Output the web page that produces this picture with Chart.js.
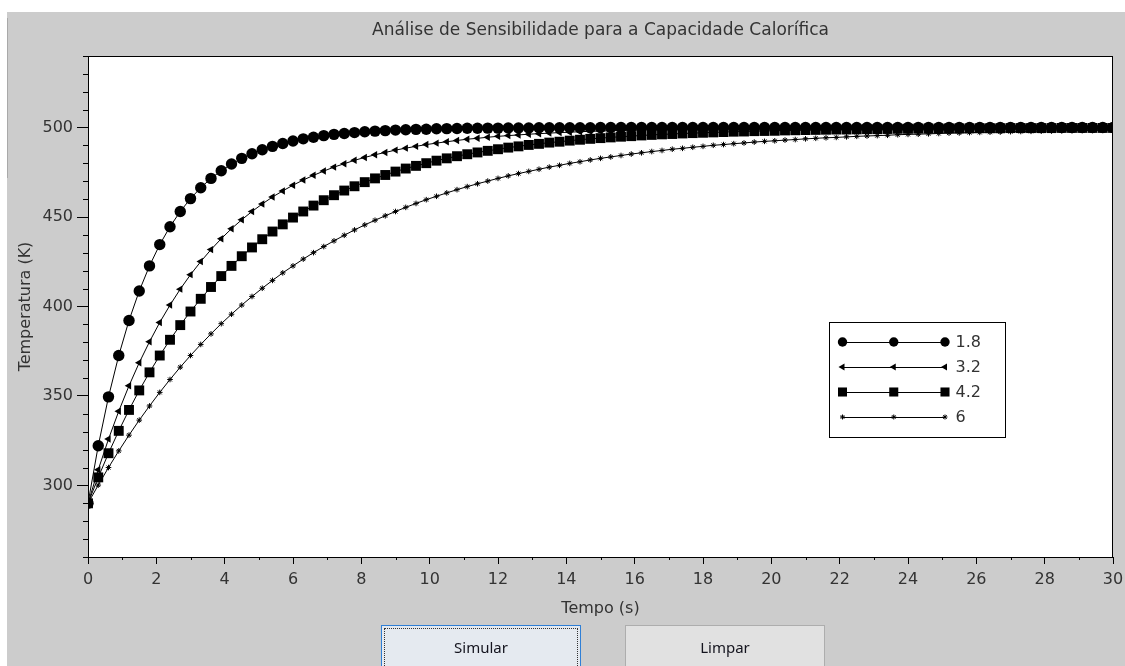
<!DOCTYPE html>
<html lang="pt">
<head>
<meta charset="utf-8">
<title>Análise de Sensibilidade para a Capacidade Calorífica</title>
<script src="https://cdn.jsdelivr.net/npm/chart.js@4.4.0/dist/chart.umd.min.js"></script>
<style>
  html, body { margin: 0; padding: 0; background: #ffffff; }
  #janela { position: relative; width: 1125px; height: 666px; overflow: hidden; background: #ffffff; }
  #painel { position: absolute; left: 7px; top: 12px; right: 0; bottom: 0; background: #cccccc; }
  #borda { position: absolute; left: 7px; top: 18px; width: 1px; height: 160px; background: #a9a9a9; }
  #grafico { position: absolute; left: 0; top: 0; }
  .botao { position: absolute; top: 625px; width: 200px; height: 46px; box-sizing: border-box;
           font: 15px "Noto Sans", "DejaVu Sans", sans-serif; color: #14141e; text-align: center; }
  #simular { left: 381px; background: #e5eaf0; border: 1px solid #2f7fd6; }
  #simular span { position: absolute; left: 2px; top: 2px; right: 2px; bottom: 2px;
                  border: 1px dotted #333; line-height: 36px; }
  #limpar { left: 625px; background: #e1e1e1; border: 1px solid #adadad; line-height: 42px; }
</style>
</head>
<body>
<div id="janela">
  <div id="painel"></div>
  <div id="borda"></div>
  <canvas id="grafico" width="1125" height="666"></canvas>
  <div class="botao" id="simular"><span>Simular</span></div>
  <div class="botao" id="limpar">Limpar</div>
</div>
<script>
// Tempo de simulação (s)
const tempos = [0, 0.3, 0.6, 0.9, 1.2, 1.5, 1.8, 2.1, 2.4, 2.7, 3, 3.3, 3.6, 3.9, 4.2, 4.5, 4.8, 5.1, 5.4, 5.7,
  6, 6.3, 6.6, 6.9, 7.2, 7.5, 7.8, 8.1, 8.4, 8.7, 9, 9.3, 9.6, 9.9, 10.2, 10.5, 10.8, 11.1, 11.4, 11.7,
  12, 12.3, 12.6, 12.9, 13.2, 13.5, 13.8, 14.1, 14.4, 14.7, 15, 15.3, 15.6, 15.9, 16.2, 16.5, 16.8, 17.1, 17.4, 17.7,
  18, 18.3, 18.6, 18.9, 19.2, 19.5, 19.8, 20.1, 20.4, 20.7, 21, 21.3, 21.6, 21.9, 22.2, 22.5, 22.8, 23.1, 23.4, 23.7,
  24, 24.3, 24.6, 24.9, 25.2, 25.5, 25.8, 26.1, 26.4, 26.7, 27, 27.3, 27.6, 27.9, 28.2, 28.5, 28.8, 29.1, 29.4, 29.7, 30];

// Temperatura (K) para cada capacidade calorífica
const temp18 = [290.0, 322.2, 349.5, 372.6, 392.2, 408.7, 422.7, 434.6, 444.6, 453.1,
  460.3, 466.4, 471.6, 475.9, 479.6, 482.8, 485.4, 487.6, 489.5, 491.1,
  492.5, 493.7, 494.6, 495.5, 496.2, 496.7, 497.2, 497.7, 498.0, 498.3,
  498.6, 498.8, 499.0, 499.1, 499.3, 499.4, 499.5, 499.6, 499.6, 499.7,
  499.7, 499.8, 499.8, 499.8, 499.9, 499.9, 499.9, 499.9, 499.9, 499.9,
  500.0, 500.0, 500.0, 500.0, 500.0, 500.0, 500.0, 500.0, 500.0, 500.0,
  500.0, 500.0, 500.0, 500.0, 500.0, 500.0, 500.0, 500.0, 500.0, 500.0,
  500.0, 500.0, 500.0, 500.0, 500.0, 500.0, 500.0, 500.0, 500.0, 500.0,
  500.0, 500.0, 500.0, 500.0, 500.0, 500.0, 500.0, 500.0, 500.0, 500.0,
  500.0, 500.0, 500.0, 500.0, 500.0, 500.0, 500.0, 500.0, 500.0, 500.0, 500.0];

const temp32 = [290.0, 308.8, 325.9, 341.5, 355.7, 368.6, 380.3, 391.1, 400.8, 409.7,
  417.8, 425.1, 431.8, 437.9, 443.5, 448.5, 453.1, 457.3, 461.2, 464.6,
  467.8, 470.7, 473.3, 475.7, 477.9, 479.8, 481.7, 483.3, 484.8, 486.1,
  487.4, 488.5, 489.5, 490.5, 491.3, 492.1, 492.8, 493.5, 494.0, 494.6,
  495.1, 495.5, 495.9, 496.3, 496.6, 496.9, 497.2, 497.4, 497.7, 497.9,
  498.1, 498.2, 498.4, 498.5, 498.7, 498.8, 498.9, 499.0, 499.1, 499.2,
  499.2, 499.3, 499.4, 499.4, 499.5, 499.5, 499.6, 499.6, 499.6, 499.7,
  499.7, 499.7, 499.8, 499.8, 499.8, 499.8, 499.8, 499.8, 499.9, 499.9,
  499.9, 499.9, 499.9, 499.9, 499.9, 499.9, 499.9, 499.9, 499.9, 500.0,
  500.0, 500.0, 500.0, 500.0, 500.0, 500.0, 500.0, 500.0, 500.0, 500.0, 500.0];

const temp42 = [290.0, 304.5, 318.0, 330.5, 342.2, 353.1, 363.2, 372.6, 381.4, 389.6,
  397.2, 404.3, 410.9, 417.0, 422.7, 428.1, 433.0, 437.6, 441.9, 445.9,
  449.7, 453.1, 456.4, 459.4, 462.2, 464.8, 467.2, 469.5, 471.6, 473.5,
  475.4, 477.1, 478.6, 480.1, 481.5, 482.8, 484.0, 485.1, 486.1, 487.0,
  487.9, 488.8, 489.5, 490.3, 490.9, 491.6, 492.1, 492.7, 493.2, 493.7,
  494.1, 494.5, 494.9, 495.2, 495.6, 495.9, 496.2, 496.4, 496.7, 496.9,
  497.1, 497.3, 497.5, 497.7, 497.8, 498.0, 498.1, 498.2, 498.4, 498.5,
  498.6, 498.7, 498.8, 498.9, 498.9, 499.0, 499.1, 499.1, 499.2, 499.3,
  499.3, 499.4, 499.4, 499.4, 499.5, 499.5, 499.5, 499.6, 499.6, 499.6,
  499.7, 499.7, 499.7, 499.7, 499.7, 499.8, 499.8, 499.8, 499.8, 499.8, 499.8];

const temp6 = [290.0, 300.2, 310.0, 319.3, 328.1, 336.5, 344.4, 352.0, 359.2, 366.1,
  372.6, 378.8, 384.7, 390.4, 395.7, 400.8, 405.6, 410.2, 414.6, 418.8,
  422.7, 426.5, 430.1, 433.5, 436.7, 439.8, 442.8, 445.6, 448.2, 450.7,
  453.1, 455.4, 457.6, 459.7, 461.6, 463.5, 465.3, 467.0, 468.6, 470.1,
  471.6, 473.0, 474.3, 475.5, 476.7, 477.9, 478.9, 480.0, 480.9, 481.9,
  482.8, 483.6, 484.4, 485.2, 485.9, 486.6, 487.2, 487.9, 488.4, 489.0,
  489.5, 490.1, 490.5, 491.0, 491.4, 491.9, 492.3, 492.6, 493.0, 493.3,
  493.7, 494.0, 494.3, 494.5, 494.8, 495.1, 495.3, 495.5, 495.7, 496.0,
  496.2, 496.3, 496.5, 496.7, 496.9, 497.0, 497.2, 497.3, 497.4, 497.5,
  497.7, 497.8, 497.9, 498.0, 498.1, 498.2, 498.3, 498.4, 498.4, 498.5, 498.6];

const rotulos = ['1.8', '3.2', '4.2', '6'];
const ticksTempo = [0, 2, 4, 6, 8, 10, 12, 14, 16, 18, 20, 22, 24, 26, 28, 30];
const ticksTemperatura = [300, 350, 400, 450, 500];

const series = [temp18, temp32, temp42, temp6];

// Marcadores de cada curva
const marcadores = [
  { pointStyle: 'circle',   radius: 5.7, rotation: 0,   borda: 0, legenda: 4.7 },
  { pointStyle: 'triangle', radius: 4.3, rotation: -90, borda: 0, legenda: 4.0 },
  { pointStyle: 'rect',     radius: 7.0, rotation: 0,   borda: 0, legenda: 6.4 },
  { pointStyle: 'star',     radius: 2.8, rotation: 0,   borda: 1, legenda: 2.5 }
];

Chart.defaults.font.family = '"DejaVu Sans", sans-serif';
Chart.defaults.font.size = 16;
Chart.defaults.color = '#333333';

const datasets = series.map((vals, k) => ({
  label: rotulos[k],
  data: tempos.map((t, i) => ({ x: t, y: vals[i] })),
  borderColor: '#000000',
  backgroundColor: '#000000',
  borderWidth: 1,
  tension: 0,
  pointStyle: marcadores[k].pointStyle,
  pointRadius: marcadores[k].radius,
  pointHoverRadius: marcadores[k].radius,
  pointRotation: marcadores[k].rotation,
  pointBackgroundColor: '#000000',
  pointBorderColor: '#000000',
  pointBorderWidth: marcadores[k].borda
}));

// Fundo branco e moldura da área de plotagem
const moldura = {
  id: 'moldura',
  beforeDraw(chart) {
    const { ctx, chartArea: a } = chart;
    ctx.save();
    ctx.fillStyle = '#ffffff';
    ctx.fillRect(a.left, a.top, a.right - a.left, a.bottom - a.top);
    ctx.restore();
  },
  afterDraw(chart) {
    const { ctx, chartArea: a } = chart;
    ctx.save();
    ctx.strokeStyle = '#000000';
    ctx.lineWidth = 1;
    ctx.strokeRect(Math.round(a.left) + 0.5, Math.round(a.top) + 0.5,
                   Math.round(a.right - a.left) - 1, Math.round(a.bottom - a.top));
    ctx.restore();
  }
};

// Marcas secundárias dos eixos
const marcasMenores = {
  id: 'marcasMenores',
  afterDraw(chart) {
    const { ctx, chartArea: a, scales: { x, y } } = chart;
    ctx.save();
    ctx.strokeStyle = '#000000';
    ctx.lineWidth = 1;
    ctx.beginPath();
    for (let v = y.min; v <= y.max; v += 10) {
      if (ticksTemperatura.includes(v)) continue;
      const py = Math.round(y.getPixelForValue(v)) + 0.5;
      ctx.moveTo(a.left - 5, py);
      ctx.lineTo(a.left, py);
    }
    for (let v = x.min + 1; v < x.max; v += 2) {
      const px = Math.round(x.getPixelForValue(v)) + 0.5;
      ctx.moveTo(px, a.bottom);
      ctx.lineTo(px, a.bottom + 3);
    }
    ctx.stroke();
    ctx.restore();
  }
};

// Título do gráfico
const titulo = {
  id: 'titulo',
  afterDraw(chart) {
    const { ctx, chartArea: a } = chart;
    ctx.save();
    ctx.fillStyle = '#333333';
    ctx.font = '17px "DejaVu Sans", sans-serif';
    ctx.textAlign = 'center';
    ctx.textBaseline = 'middle';
    ctx.fillText('Análise de Sensibilidade para a Capacidade Calorífica', (a.left + a.right) / 2, 31);
    ctx.restore();
  }
};

// Legenda com linha e três marcadores por série
const legenda = {
  id: 'legenda',
  afterDraw(chart) {
    const { ctx, chartArea: a } = chart;
    const bx = Math.round(a.left + 741) + 0.5;
    const by = Math.round(a.top + 266) + 0.5;
    const bw = 176, bh = 115;
    ctx.save();
    ctx.fillStyle = '#ffffff';
    ctx.fillRect(bx, by, bw, bh);
    ctx.strokeStyle = '#000000';
    ctx.lineWidth = 1;
    ctx.strokeRect(bx, by, bw, bh);
    chart.data.datasets.forEach((ds, k) => {
      const yy = by + 19.5 + k * 25;
      const x0 = bx + 13, x1 = bx + 115.5;
      ctx.strokeStyle = '#000000';
      ctx.lineWidth = 1;
      ctx.beginPath();
      ctx.moveTo(x0, Math.round(yy) + 0.5);
      ctx.lineTo(x1, Math.round(yy) + 0.5);
      ctx.stroke();
      const m = marcadores[k];
      ctx.fillStyle = '#000000';
      ctx.strokeStyle = '#000000';
      ctx.lineWidth = Math.max(m.borda, 1);
      [x0, (x0 + x1) / 2, x1].forEach(px => {
        Chart.helpers.drawPoint(ctx, {
          pointStyle: m.pointStyle, radius: m.legenda, rotation: m.rotation, borderWidth: m.borda
        }, px, yy);
      });
      ctx.fillStyle = '#333333';
      ctx.font = '16px "DejaVu Sans", sans-serif';
      ctx.textAlign = 'left';
      ctx.textBaseline = 'middle';
      ctx.fillText(ds.label, bx + 126, yy + 1);
    });
    ctx.restore();
  }
};

new Chart(document.getElementById('grafico'), {
  type: 'line',
  data: { datasets },
  options: {
    responsive: false,
    animation: false,
    events: [],
    layout: { padding: { left: 0, top: 56, right: 12, bottom: 0 } },
    plugins: { legend: { display: false }, title: { display: false }, tooltip: { enabled: false } },
    scales: {
      x: {
        type: 'linear',
        min: 0,
        max: 30,
        afterBuildTicks: s => { s.ticks = ticksTempo.map(v => ({ value: v })); },
        afterFit: s => { s.height = 109; s.paddingLeft = 0; s.paddingRight = 0; },
        grid: { display: true, drawOnChartArea: false, drawTicks: true, tickLength: 7, color: '#000000', lineWidth: 1 },
        border: { display: true, color: '#000000', width: 1 },
        ticks: { padding: 6, maxRotation: 0, autoSkip: false, color: '#333333', font: { size: 16 } },
        title: { display: true, text: 'Tempo (s)', color: '#333333', font: { size: 16 }, padding: { top: 0, bottom: 48 } }
      },
      y: {
        type: 'linear',
        min: 260,
        max: 540,
        afterBuildTicks: s => { s.ticks = ticksTemperatura.map(v => ({ value: v })); },
        afterFit: s => { s.width = 88; s.paddingTop = 0; s.paddingBottom = 0; },
        grid: { display: true, drawOnChartArea: false, drawTicks: true, tickLength: 11, color: '#000000', lineWidth: 1 },
        border: { display: true, color: '#000000', width: 1 },
        ticks: { padding: 4, color: '#333333', font: { size: 16 } },
        title: { display: true, text: 'Temperatura (K)', color: '#333333', font: { size: 16 }, padding: { top: 16, bottom: 0 } }
      }
    }
  },
  plugins: [moldura, marcasMenores, titulo, legenda]
});
</script>
</body>
</html>
